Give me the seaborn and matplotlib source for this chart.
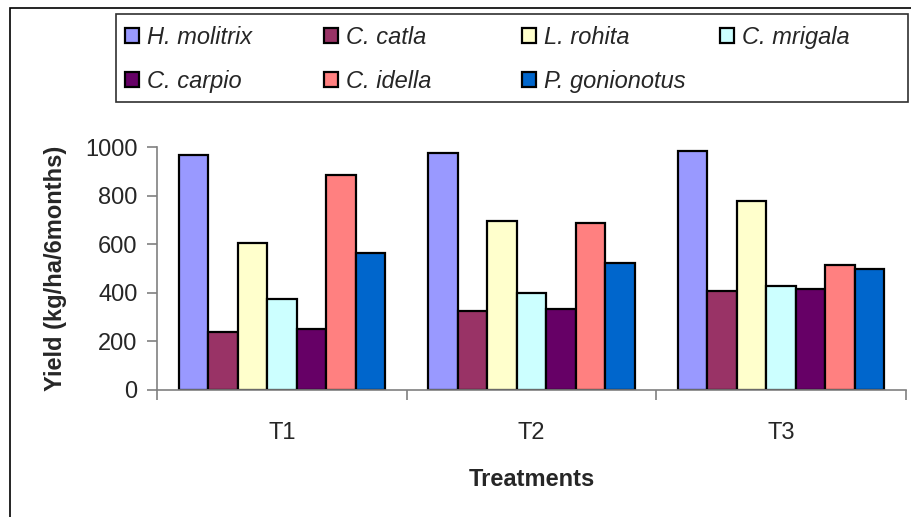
import matplotlib
matplotlib.use('Agg')
import matplotlib.pyplot as plt
from matplotlib.patches import Rectangle
import pandas as pd
import seaborn as sns

treatments = ['T1', 'T2', 'T3']
species = ['H. molitrix', 'C. catla', 'L. rohita', 'C. mrigala',
           'C. carpio', 'C. idella', 'P. gonionotus']
h_molitrix = [968, 974, 983]
c_catla = [237, 326, 409]
l_rohita = [603, 697, 779]
c_mrigala = [374, 400, 426]
c_carpio = [252, 335, 417]
c_idella = [885, 687, 516]
p_gonionotus = [565, 524, 500]
colors = ['#9999FF', '#993366', '#FFFFCC', '#CCFFFF',
          '#660066', '#FF8080', '#0066CC']

series = [h_molitrix, c_catla, l_rohita, c_mrigala, c_carpio, c_idella, p_gonionotus]
rows = []
for name, vals in zip(species, series):
    for t, v in zip(treatments, vals):
        rows.append({'Treatment': t, 'Species': name, 'Yield': v})
df = pd.DataFrame(rows)

sns.set_style('ticks')
plt.rcParams['font.family'] = ['Liberation Sans', 'DejaVu Sans']
FS = 17

W, H = 912, 517
fig = plt.figure(figsize=(W / 100, H / 100), dpi=100)
ax = fig.add_axes([157 / W, 1 - 390 / H, (906 - 157) / W, (390 - 147) / H])

sns.barplot(data=df, x='Treatment', y='Yield', hue='Species', order=treatments,
            hue_order=species, palette=dict(zip(species, colors)), width=0.827,
            edgecolor='black', linewidth=1.6, saturation=1, errorbar=None, ax=ax)

ax.set_ylim(0, 1000)
ax.set_xlim(-0.5, 2.5)
ax.set_yticks([0, 200, 400, 600, 800, 1000])
ax.tick_params(axis='y', labelsize=FS, length=7, color='#808080', width=1.2, pad=7)
ax.set_xticks([0, 1, 2])
ax.set_xticks([-0.5, 0.5, 1.5, 2.5], minor=True)
ax.tick_params(axis='x', which='major', length=0, labelsize=FS, pad=23)
ax.tick_params(axis='x', which='minor', length=7, color='#808080', width=1.2)
for side in ['top', 'right']:
    ax.spines[side].set_visible(False)
for side in ['left', 'bottom']:
    ax.spines[side].set_color('#808080')
    ax.spines[side].set_linewidth(1.2)

ax.set_xlabel('Treatments', fontsize=FS, fontweight='bold', labelpad=17)
ax.set_ylabel('Yield (kg/ha/6months)', fontsize=FS, fontweight='bold', labelpad=13)

# legend: one small legend per column so the columns sit at even steps
handles, labels = ax.get_legend_handles_labels()
ax.get_legend().remove()
columns = [[0, 4], [1, 5], [2, 6], [3]]
col_x = [125, 324, 522, 720]
for idx, x in zip(columns, col_x):
    fig.legend([handles[i] for i in idx], [labels[i] for i in idx],
               loc='upper left', bbox_to_anchor=(x / W, 1 - 26 / H),
               bbox_transform=fig.transFigure, prop={'style': 'italic', 'size': FS},
               handlelength=0.6, handleheight=0.6, handletextpad=0.35,
               labelspacing=0.9, borderpad=0, borderaxespad=0, frameon=False)
fig.patches.append(Rectangle((116 / W, 1 - 102 / H), (908 - 116) / W, 88 / H,
                             transform=fig.transFigure, fill=False,
                             edgecolor='#303030', linewidth=1.2))

# outer chart border, cut off at the right and bottom
fig.patches.append(Rectangle((10 / W, -0.2), 2, 1.2 - 8 / H, transform=fig.transFigure,
                             fill=False, edgecolor='black', linewidth=1.2, zorder=0))

fig.savefig('out.png', dpi=100)
